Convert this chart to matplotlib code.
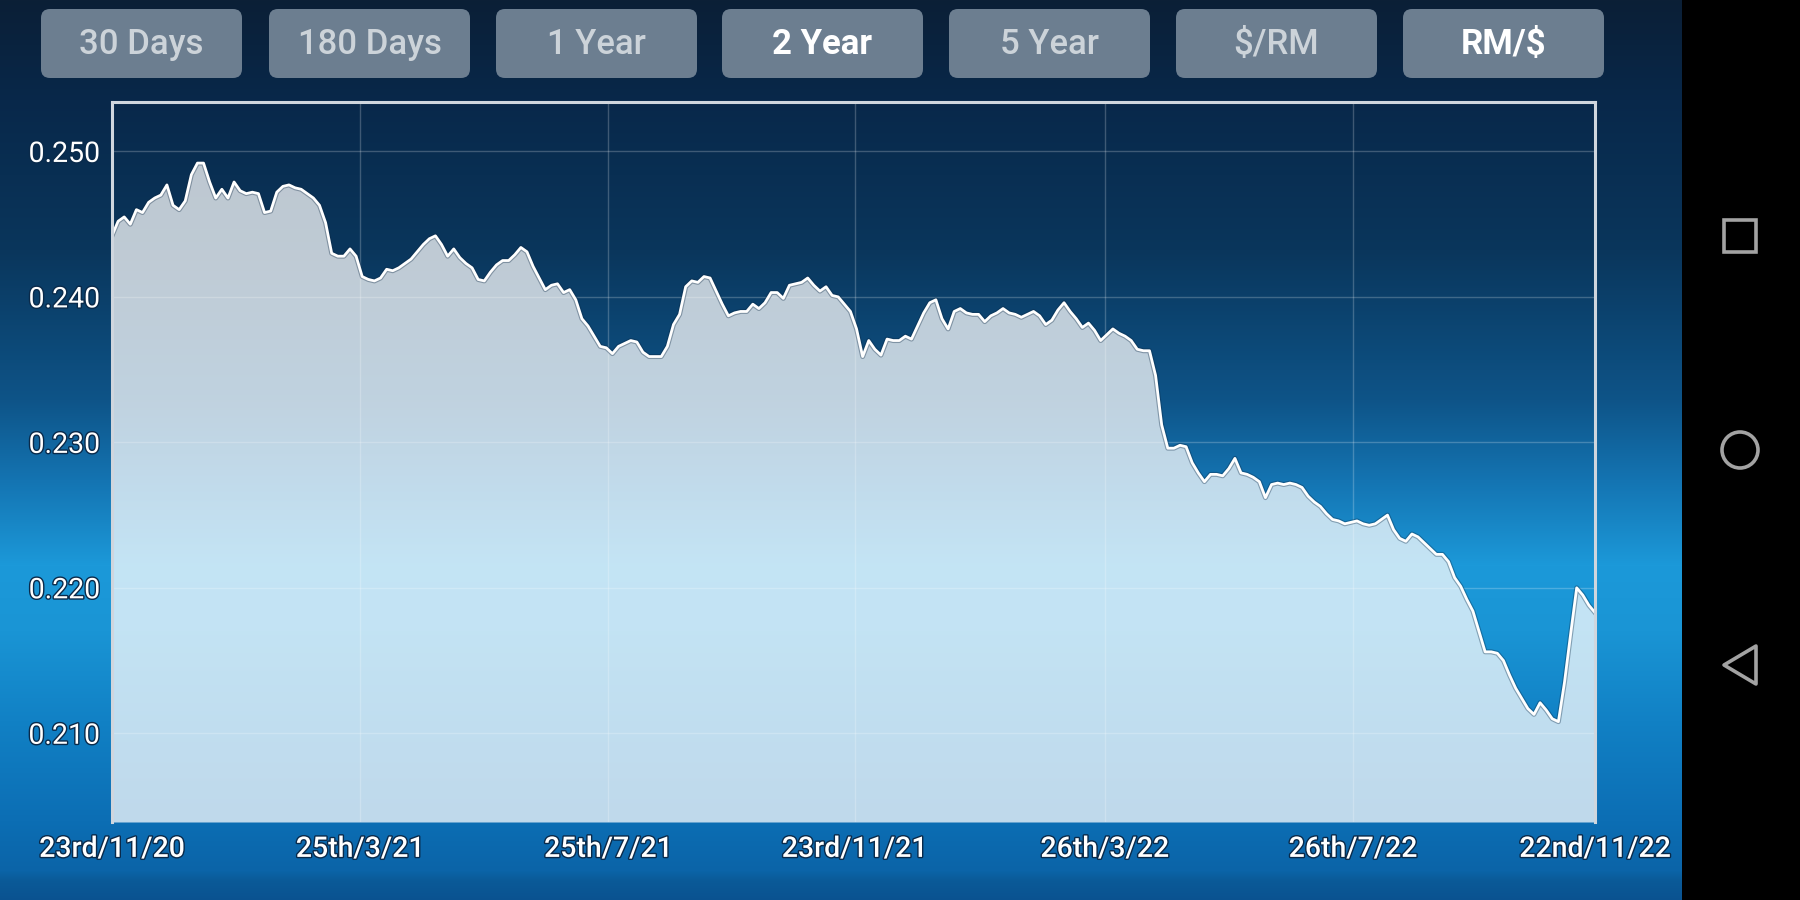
import numpy as np
import pandas as pd
import matplotlib
matplotlib.use('Agg')
import matplotlib.pyplot as plt
import matplotlib.colors as mcolors
import matplotlib.patches as mpatches
import matplotlib.patheffects as pe

plt.rcParams['font.family'] = ['Roboto', 'DejaVu Sans']

# Data: RM/$ rate, one reading every 3 days from 23rd Nov 2020
startDate = '2020-11-23'
endDate = '2022-11-22'
stepDays = 3
rate = [
    .2442, .2452, .2455, .2450, .2460, .2458, .2465, .2468, .2470, .2477,
    .2463, .2460, .2466, .2484, .2492, .2492, .2479, .2468, .2474, .2468,
    .2479, .2473, .2471, .2472, .2471, .2458, .2459, .2472, .2476, .2477,
    .2475, .2474, .2471, .2468, .2463, .2451, .2430, .2428, .2428, .2433,
    .2428, .2414, .2412, .2411, .2413, .2419, .2418, .2420, .2423, .2426,
    .2431, .2436, .2440, .2442, .2436, .2428, .2433, .2427, .2423, .2420,
    .2412, .2411, .2417, .2422, .2425, .2425, .2429, .2434, .2431, .2421,
    .2413, .2405, .2408, .2409, .2403, .2405, .2398, .2385, .2380, .2373,
    .2366, .2365, .2361, .2366, .2368, .2370, .2369, .2362, .2359, .2359,
    .2359, .2366, .2381, .2388, .2407, .2411, .2410, .2414, .2413, .2404,
    .2395, .2387, .2389, .2390, .2390, .2395, .2392, .2396, .2403, .2403,
    .2399, .2408, .2409, .2410, .2413, .2408, .2404, .2407, .2401, .2400,
    .2395, .2390, .2378, .2359, .2370, .2364, .2360, .2371, .2370, .2370,
    .2373, .2371, .2380, .2389, .2396, .2398, .2385, .2378, .2390, .2392,
    .2389, .2388, .2388, .2383, .2387, .2389, .2392, .2389, .2388, .2386,
    .2388, .2390, .2387, .2381, .2384, .2391, .2396, .2390, .2385, .2379,
    .2382, .2377, .2370, .2374, .2378, .2375, .2373, .2370, .2364, .2363,
    .2363, .2346, .2312, .2296, .2296, .2298, .2297, .2286, .2279, .2273,
    .2278, .2278, .2277, .2282, .2289, .2279, .2278, .2276, .2273, .2262,
    .2271, .2272, .2271, .2272, .2271, .2269, .2263, .2259, .2256, .2251,
    .2247, .2246, .2244, .2245, .2246, .2244, .2243, .2244, .2247, .2250,
    .2240, .2234, .2232, .2237, .2235, .2231, .2227, .2223, .2223, .2218,
    .2207, .2201, .2192, .2184, .2170, .2156, .2156, .2155, .2150, .2140,
    .2131, .2124, .2117, .2113, .2121, .2116, .2110, .2108, .2135, .2168,
    .2200, .2195, .2188, .2183,
]
tickDates = ['2020-11-23', '2021-03-25', '2021-07-25', '2021-11-23',
             '2022-03-26', '2022-07-26', '2022-11-22']
tickLabels = ['23rd/11/20', '25th/3/21', '25th/7/21', '23rd/11/21',
              '26th/3/22', '26th/7/22', '22nd/11/22']
yTicks = [0.210, 0.220, 0.230, 0.240, 0.250]
yRange = [0.2039, 0.2534]
buttonLabels = ['30 Days', '180 Days', '1 Year', '2 Year', '5 Year', '$/RM', 'RM/$']
activeButtons = ['2 Year', 'RM/$']

# Figure in pixel units (1800 x 900)
W, H = 1800, 900
fig = plt.figure(figsize=(18, 9), dpi=100)
fig.patch.set_facecolor('black')

# Background gradient (screen area left of the nav bar)
navX = 1682
stops = [(0, '#0b1f36'), (100, '#08284a'), (250, '#0a365c'), (400, '#0e5488'),
         (480, '#1474b2'), (565, '#1c99d9'), (630, '#1a95d5'), (720, '#1181c5'),
         (820, '#0c6eb4'), (870, '#0b64a8'), (880, '#0a5a98'), (900, '#0a5290')]
ys = np.arange(H)
stopY = [s[0] for s in stops]
stopRGB = np.array([mcolors.to_rgb(s[1]) for s in stops])
grad = np.stack([np.interp(ys, stopY, stopRGB[:, c]) for c in range(3)], axis=1)
grad = np.repeat(grad[:, None, :], 2, axis=1)
bgAx = fig.add_axes([0, 0, navX / W, 1])
bgAx.imshow(grad, aspect='auto', extent=[0, 1, 0, 1], origin='upper')
bgAx.axis('off')

# Main chart
left, right, top, bottom = 112, 1595, 102, 822
ax = fig.add_axes([left / W, (H - bottom) / H, (right - left) / W, (bottom - top) / H])
ax.patch.set_alpha(0)
dates = pd.date_range(startDate, periods=len(rate), freq=f'{stepDays}D')
ax.fill_between(dates, rate, yRange[0], color='white', alpha=0.74, lw=0, zorder=2)
ax.plot(dates, rate, color='white', lw=2, zorder=3,
        path_effects=[pe.Stroke(linewidth=3.6, foreground='#0a2540', alpha=0.35), pe.Normal()])
ax.set_xlim(pd.Timestamp(startDate), pd.Timestamp(endDate))
ax.set_ylim(yRange)
ax.set_xticks(pd.to_datetime(tickDates))
ax.set_xticklabels(tickLabels, fontweight='medium')
ax.set_yticks(yTicks)
ax.set_yticklabels(['%.3f' % v for v in yTicks])
ax.tick_params(length=0, colors='white', labelsize=20.5)
ax.tick_params(axis='y', pad=8.5)
ax.tick_params(axis='x', pad=10)
for lab in ax.get_xticklabels() + ax.get_yticklabels():
    lab.set_path_effects([pe.withStroke(linewidth=2, foreground='#0a2a4a')])
ax.grid(color='white', alpha=0.22, lw=1, zorder=4)
ax.set_axisbelow(False)
for side in ['top', 'left', 'right']:
    ax.spines[side].set_color('#cfd6de')
    ax.spines[side].set_linewidth(2.2)
    ax.spines[side].set_zorder(5)
ax.spines['bottom'].set_visible(False)

# Overlay in screen pixels for the buttons and nav bar icons
ov = fig.add_axes([0, 0, 1, 1])
ov.set_xlim(0, W)
ov.set_ylim(H, 0)
ov.axis('off')
ov.patch.set_alpha(0)

btnX = [41, 269, 496, 722, 949, 1176, 1403]
btnW, btnTop, btnH = 201, 9, 69
for bx, name in zip(btnX, buttonLabels):
    ov.add_patch(mpatches.FancyBboxPatch((bx, btnTop), btnW, btnH,
                                         boxstyle='round,pad=0,rounding_size=9',
                                         fc='#6c7e90', ec='none'))
    active = name in activeButtons
    ov.text(bx + btnW / 2, btnTop + btnH / 2 + 1, name, ha='center', va='center',
            fontsize=25, color='white' if active else '#ccd3d9',
            fontweight='bold' if active else 'medium', parse_math=False)

iconCol = '#a3a3a3'
ov.add_patch(mpatches.Rectangle((1724, 220), 32, 32, fill=False, ec=iconCol, lw=2.6))
ov.add_patch(mpatches.Circle((1740, 450), 18, fill=False, ec=iconCol, lw=2.6))
ov.add_patch(mpatches.Polygon([(1724, 665), (1756, 646), (1756, 684)], closed=True,
                              fill=False, ec=iconCol, lw=2.6, joinstyle='round'))

fig.savefig('out.png', dpi=100, facecolor=fig.get_facecolor())
